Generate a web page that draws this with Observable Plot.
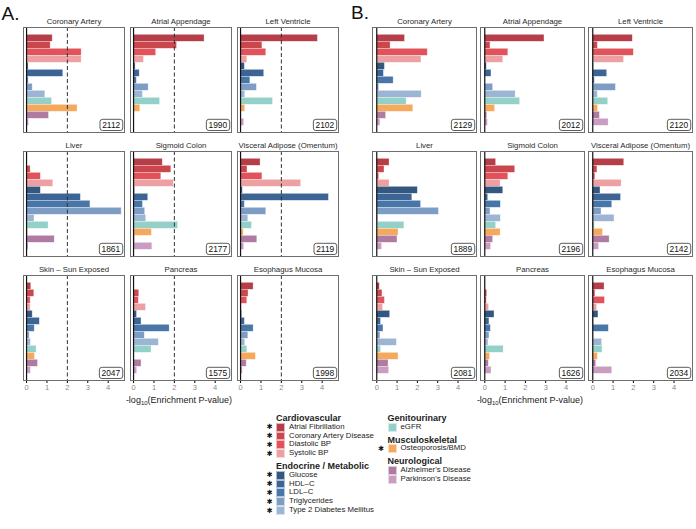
<!DOCTYPE html>
<html><head><meta charset="utf-8">
<script src="https://cdn.jsdelivr.net/npm/d3@7"></script>
<script src="https://cdn.jsdelivr.net/npm/@observablehq/plot@0.6"></script>
<style>
body{margin:0;background:#fff;font-family:"Liberation Sans",Arial,Helvetica,sans-serif;}
#root{position:relative;width:696px;height:529px;overflow:hidden;background:#fff;}
.abs{position:absolute;white-space:nowrap;}
.plotbox{position:absolute;top:0;}
g[aria-label="x-axis tick label"]{fill:#8a8a8a;}
g[aria-label="x-axis tick"]{stroke:#8a8a8a;}
</style></head>
<body><div id="root"></div>
<script>
// ---------------- data ----------------
const tissues = ["Coronary Artery","Atrial Appendage","Left Ventricle","Liver","Sigmoid Colon","Visceral Adipose (Omentum)","Skin – Sun Exposed","Pancreas","Esophagus Mucosa"];
const traits = ["Atrial Fibrillation","Coronary Artery Disease","Diastolic BP","Systolic BP","Glucose","HDL–C","LDL–C","Triglycerides","Type 2 Diabetes Mellitus","eGFR","Osteoporosis/BMD","Alzheimer's Disease","Parkinson's Disease"];
const colors = ["#b63e48","#cb474e","#e1525a","#eda0a2","#34577f","#3c6595","#4876a9","#7d9dc4","#9cb5d4","#93d0c7","#f4a95c","#af7ba3","#c99cc1"];
const starred = ["Atrial Fibrillation","Coronary Artery Disease","Diastolic BP","Systolic BP","Glucose","HDL–C","LDL–C","Triglycerides","Type 2 Diabetes Mellitus","Osteoporosis/BMD"];
const groupNames = ["Cardiovascular","Endocrine / Metabolic","Genitourinary","Musculoskeletal","Neurological"];
const groupMembers = [[0,1,2,3],[4,5,6,7,8],[9],[10],[11,12]];
const xTicks = [0,1,2,3,4];

// panel A values (rows = tissues, cols = traits)
const valuesA = [
  [1.28,1.18,2.70,2.70,0.10,1.80,0.10,0.30,0.92,1.25,2.50,1.10,0.12],
  [3.48,2.13,1.11,0.51,0.10,0.30,0.16,0.74,0.46,1.30,0.33,0.00,0.00],
  [3.79,1.07,1.26,0.33,0.21,1.16,0.48,0.80,0.23,1.59,0.23,0.00,0.18],
  [0.02,0.20,0.70,1.31,0.70,2.66,3.13,4.66,0.39,1.08,0.08,1.38,0.10],
  [1.43,1.85,1.36,1.97,0.07,0.72,0.46,0.57,0.62,2.18,0.90,0.07,0.92],
  [0.98,0.34,1.07,2.97,0.11,4.33,0.21,1.26,0.38,0.56,0.15,0.82,0.18],
  [0.23,0.38,0.20,0.20,0.30,0.65,0.40,0.15,0.21,0.49,0.41,0.56,0.21],
  [0.04,0.28,0.26,0.61,0.17,0.39,1.77,0.55,1.24,0.88,0.00,0.39,0.18],
  [0.64,0.39,0.33,0.07,0.08,0.21,0.64,0.38,0.23,0.33,0.75,0.30,0.11]
];
const countsA = [2112,1990,2102,1861,2177,2119,2047,1575,1998];

// panel B values
const valuesB = [
  [1.39,0.68,2.51,2.20,0.40,0.35,0.83,0.12,2.21,1.47,1.80,0.46,0.18],
  [2.94,0.28,1.16,0.91,0.10,0.33,0.00,0.41,1.52,1.74,0.51,0.12,0.15],
  [1.97,0.25,2.02,1.54,0.05,0.71,0.10,1.14,0.25,0.76,0.26,0.35,0.78],
  [0.63,0.38,0.12,0.63,2.02,1.75,2.18,3.06,0.08,1.36,1.07,1.02,0.26],
  [0.56,1.50,1.16,0.78,0.91,0.17,0.79,0.28,0.79,0.56,0.78,0.41,0.31],
  [1.55,0.23,0.13,1.42,0.38,1.39,0.96,0.43,1.07,0.10,0.50,0.83,0.31],
  [0.15,0.28,0.40,0.31,0.66,0.21,0.33,0.18,0.99,0.21,1.07,0.58,0.61],
  [0.03,0.12,0.10,0.21,0.48,0.23,0.30,0.23,0.18,0.93,0.26,0.20,0.33],
  [0.58,0.13,0.60,0.21,0.28,0.05,0.79,0.05,0.46,0.48,0.25,0.17,0.96]
];
const countsB = [2129,2012,2120,1889,2196,2142,2081,1626,2034];

// ---------------- drawing ----------------
const root = document.getElementById("root");
const FONT = '"Liberation Sans", Arial, Helvetica, sans-serif';

function makePanel(vals, counts, opt) {
  const rows = [];
  tissues.forEach((t, i) => traits.forEach((tr, j) =>
    rows.push({col: i % 3, row: Math.floor(i / 3), trait: tr, value: vals[i][j]})));
  const labels = tissues.map((t, i) => ({col: i % 3, row: Math.floor(i / 3), tissue: t, count: String(counts[i])}));
  const svg = Plot.plot({
    width: opt.width, height: 410,
    marginLeft: opt.ml, marginRight: opt.mr, marginTop: 26.7, marginBottom: 30,
    style: {fontFamily: FONT, fontSize: "7.5px", background: "none", overflow: "visible"},
    fx: {domain: [0,1,2], axis: null, paddingInner: opt.padX, paddingOuter: 0},
    fy: {domain: [0,1,2], axis: null, paddingInner: 0.157, paddingOuter: 0},
    x: {domain: opt.xDomain, ticks: xTicks, tickFormat: d => String(d), tickSize: 3, tickPadding: 1.5, label: null},
    y: {domain: traits, axis: null, padding: 0, insetTop: 1.5},
    color: {domain: traits, range: colors},
    marks: [
      Plot.barX(rows, {fx: "col", fy: "row", y: "trait", x: "value", fill: "trait",
        stroke: "white", strokeOpacity: 0.55, strokeWidth: 0.6}),
      opt.dashed ? Plot.ruleX([2], {stroke: "#333", strokeWidth: 1, strokeDasharray: "4,2.5"}) : null,
      Plot.ruleX([0], {stroke: "#111", strokeWidth: 1.2}),
      Plot.frame({stroke: "#6e6e6e", strokeWidth: 1}),
      Plot.text(labels, {fx: "col", fy: "row", text: "tissue", frameAnchor: "top",
        lineAnchor: "bottom", dy: -3.5, fontSize: 7.8, fill: "#2a2a2a"}),
      Plot.text(labels, {fx: "col", fy: "row", text: "count", frameAnchor: "bottom-right",
        dx: -4.3, dy: -4.6, fontSize: 8.4, fill: "#111"})
    ]
  });
  const wrap = document.createElement("div");
  wrap.className = "plotbox";
  wrap.style.left = opt.left + "px";
  wrap.appendChild(svg);
  root.appendChild(wrap);
  const countSet = new Set(counts.map(String));
  svg.querySelectorAll("text").forEach(t => {
    if (!countSet.has(t.textContent.trim())) return;
    const bb = t.getBBox();
    const r = document.createElementNS("http://www.w3.org/2000/svg", "rect");
    r.setAttribute("x", bb.x - 2.2);
    r.setAttribute("y", bb.y - 0.6);
    r.setAttribute("width", bb.width + 4.4);
    r.setAttribute("height", bb.height + 1.2);
    r.setAttribute("rx", 2.5);
    r.setAttribute("fill", "white");
    r.setAttribute("stroke", "#333");
    r.setAttribute("stroke-width", 0.8);
    const tr = t.getAttribute("transform");
    if (tr) r.setAttribute("transform", tr);
    t.parentNode.insertBefore(r, t);
  });
}

makePanel(valuesA, countsA, {left: 0, width: 345, ml: 21.7, mr: 5, padX: 0.052, xDomain: [-0.15, 4.8], dashed: true});
makePanel(valuesB, countsB, {left: 345, width: 351, ml: 26.7, mr: 4.3, padX: 0.04, xDomain: [-0.21, 4.91], dashed: false});

function addDiv(html, css) {
  const d = document.createElement("div");
  d.className = "abs";
  d.innerHTML = html;
  Object.assign(d.style, css);
  root.appendChild(d);
  return d;
}

// panel letters
addDiv("A.", {left: "1.5px", top: "4px", fontSize: "19px", lineHeight: "19px", color: "#111"});
addDiv("B.", {left: "351px", top: "2.5px", fontSize: "19px", lineHeight: "19px", color: "#111"});

// axis titles
const axTitle = '-log<sub style="font-size:6px;vertical-align:-2px;line-height:0">10</sub>(Enrichment P-value)';
[179, 530].forEach(cx => {
  addDiv(axTitle, {left: (cx - 80) + "px", width: "160px", textAlign: "center", top: "394px",
    fontSize: "9px", lineHeight: "12px", color: "#222"});
});

// legend
const ROW = 8.8;
const columns = [{x: 276, groups: [0, 1]}, {x: 387.5, groups: [2, 3, 4]}];
columns.forEach(c => {
  let y = 418;
  c.groups.forEach(g => {
    addDiv(groupNames[g], {left: c.x + "px", top: (y - 5) + "px", fontSize: "9px", lineHeight: "10px",
      fontWeight: "bold", color: "#222"});
    y += 9.2;
    groupMembers[g].forEach(k => {
      addDiv("", {left: c.x + "px", top: (y - ROW / 2) + "px", width: "9px", height: ROW + "px",
        background: colors[k], boxSizing: "border-box", border: "0.5px solid rgba(255,255,255,0.6)"});
      addDiv(traits[k], {left: (c.x + 13) + "px", top: (y - ROW / 2) + "px", fontSize: "7.8px", lineHeight: ROW + "px", color: "#222"});
      if (starred.includes(traits[k])) {
        addDiv("✱", {left: (c.x - 9.5) + "px", top: (y - 3.8) + "px", fontSize: "7.2px", lineHeight: "7.6px",
          fontFamily: '"DejaVu Sans", sans-serif', color: "#111"});
      }
      y += ROW;
    });
    y += 3.6;
  });
});
</script>
</body></html>
